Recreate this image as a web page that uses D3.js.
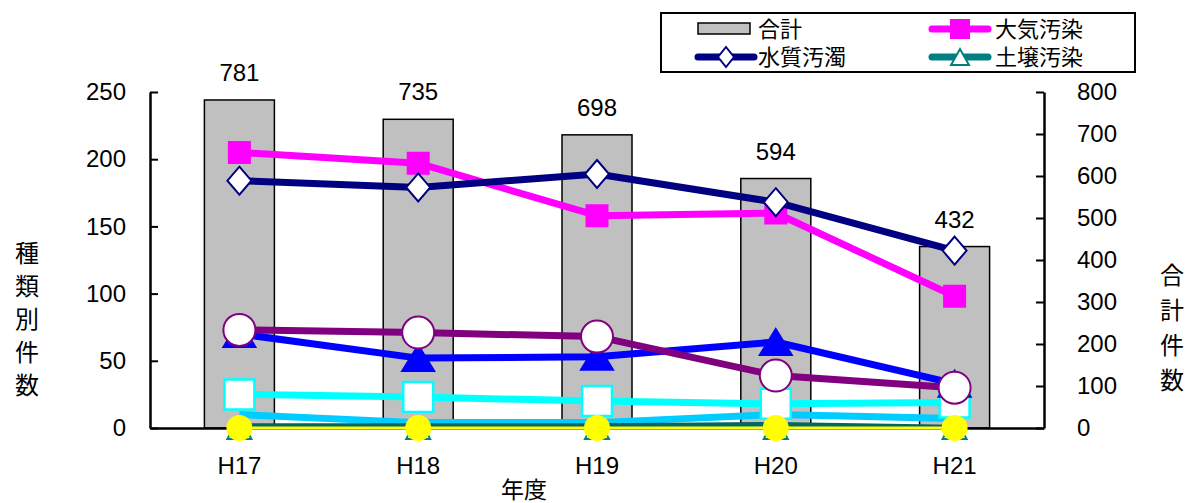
<!DOCTYPE html>
<html lang="ja">
<head>
<meta charset="UTF-8">
<title>種類別件数</title>
<style>
  body { margin: 0; background: #fff; }
  text { font-family: "Liberation Sans", Arial, sans-serif; fill: #000; }
  .jp { font-family: "Noto Sans CJK JP", sans-serif; }
  .domain { stroke: #000; stroke-width: 2.5; }
  .tick line { stroke: #000; stroke-width: 2; }
</style>
</head>
<body>
<svg id="chart" width="1190" height="503"></svg>
<script src="https://d3js.org/d3.v7.min.js"></script>
<script>
// data
const years = ["H17", "H18", "H19", "H20", "H21"];
const total = [781, 735, 698, 594, 432];
const taiki = [205, 197, 158, 160, 98];     // 大気汚染
const suishitsu = [184, 179, 189, 168, 132]; // 水質汚濁
const dojou = [0, 0, 0, 0, 0];             // 土壌汚染
const seriesBlue = [70, 52, 53, 64, 33];
const seriesPurple = [73, 71, 68, 39, 30];
const seriesCyan = [25, 23, 20, 18, 19];
const seriesSky = [10, 4, 4, 10, 7];
const seriesGreen = [2, 2, 2, 3, 1];
const seriesYellow = [0, 0, 0, 0, 0];
const leftTicks = [0, 50, 100, 150, 200, 250];
const rightTicks = [0, 100, 200, 300, 400, 500, 600, 700, 800];

const svg = d3.select("#chart");
const plotL = 150, plotR = 1044, plotT = 92, plotB = 428;

const x = d3.scaleBand().domain(years).range([plotL, plotR]).paddingInner(0).paddingOuter(0);
const yL = d3.scaleLinear().domain([0, 250]).range([plotB, plotT]);
const yR = d3.scaleLinear().domain([0, 800]).range([plotB, plotT]);
const cx = d => x(d) + x.bandwidth() / 2;
const barW = 70;

// bars (合計)
svg.append("g").selectAll("rect")
  .data(years)
  .enter().append("rect")
  .attr("x", (d) => cx(d) - barW / 2)
  .attr("y", (d, i) => yR(total[i]))
  .attr("width", barW)
  .attr("height", (d, i) => plotB - yR(total[i]))
  .attr("fill", "#c0c0c0")
  .attr("stroke", "#000")
  .attr("stroke-width", 1.5);

svg.append("g").selectAll("text")
  .data(years)
  .enter().append("text")
  .attr("x", d => cx(d))
  .attr("y", (d, i) => yR(total[i]) - 19)
  .attr("text-anchor", "middle")
  .attr("font-size", 24)
  .text((d, i) => total[i]);

// axes
svg.append("g")
  .attr("transform", `translate(${plotL},0)`)
  .call(d3.axisLeft(yL).tickValues(leftTicks).tickSize(-8).tickSizeOuter(0).tickPadding(24))
  .call(g => g.selectAll("text").attr("font-size", 24).attr("font-family", "Liberation Sans"));

svg.append("g")
  .attr("transform", `translate(${plotR},0)`)
  .call(d3.axisRight(yR).tickValues(rightTicks).tickSize(-8).tickSizeOuter(0).tickPadding(33))
  .call(g => g.selectAll("text").attr("font-size", 24).attr("font-family", "Liberation Sans"));

svg.append("g")
  .attr("transform", `translate(0,${plotB})`)
  .call(d3.axisBottom(x).tickSize(0).tickPadding(29))
  .call(g => g.selectAll("text").attr("font-size", 24).attr("font-family", "Liberation Sans"));

// line series
const line = vals => d3.line().x((d, i) => cx(years[i])).y(d => yL(d))(vals);

function drawSeries(vals, color, width, marker) {
  const g = svg.append("g");
  g.append("path")
    .attr("d", line(vals))
    .attr("fill", "none")
    .attr("stroke", color)
    .attr("stroke-width", width)
    .attr("stroke-linejoin", "round");
  if (marker) {
    g.selectAll(".m")
      .data(vals)
      .enter().append("path")
      .attr("transform", (d, i) => `translate(${cx(years[i])},${yL(d)})`)
      .attr("d", marker.d)
      .attr("fill", marker.fill)
      .attr("stroke", marker.stroke)
      .attr("stroke-width", marker.sw || 2);
  }
}

const sq = s => `M${-s / 2},${-s / 2}H${s / 2}V${s / 2}H${-s / 2}Z`;
const tri = (w, h) => `M0,${-h / 2}L${w / 2},${h / 2}L${-w / 2},${h / 2}Z`;
const dia = (w, h) => `M0,${-h / 2}L${w / 2},0L0,${h / 2}L${-w / 2},0Z`;
const circ = r => `M${-r},0A${r},${r} 0 1,0 ${r},0A${r},${r} 0 1,0 ${-r},0Z`;

drawSeries(taiki, "#ff00ff", 7, { d: sq(21), fill: "#ff00ff", stroke: "#ff00ff" });
drawSeries(suishitsu, "#000080", 7, { d: dia(24, 28), fill: "#fff", stroke: "#000080", sw: 2 });
drawSeries(dojou, "#008080", 4, { d: tri(24, 22), fill: "#fff", stroke: "#008080", sw: 2 });
drawSeries(seriesSky, "#00ccff", 7, null);
drawSeries(seriesCyan, "#00ffff", 7, { d: sq(30), fill: "#fff", stroke: "#00ffff", sw: 2.5 });
drawSeries(seriesBlue, "#0000ff", 7, { d: tri(32, 26), fill: "#0000ff", stroke: "#0000ff" });
drawSeries(seriesPurple, "#800080", 7, { d: circ(16), fill: "#fff", stroke: "#800080", sw: 2 });
drawSeries(seriesGreen, "#006666", 4, null);
drawSeries(seriesYellow, "#ffff00", 3, { d: circ(12), fill: "#ffff00", stroke: "#ffff00" });

// axis titles
svg.append("g").selectAll("text")
  .data(["種", "類", "別", "件", "数"])
  .enter().append("text")
  .attr("class", "jp")
  .attr("x", 27)
  .attr("y", (d, i) => 262 + i * 33)
  .attr("text-anchor", "middle")
  .attr("font-size", 24)
  .text(d => d);

svg.append("g").selectAll("text")
  .data(["合", "計", "件", "数"])
  .enter().append("text")
  .attr("class", "jp")
  .attr("x", 1172)
  .attr("y", (d, i) => 284 + i * 35)
  .attr("text-anchor", "middle")
  .attr("font-size", 24)
  .text(d => d);

svg.append("text")
  .attr("class", "jp")
  .attr("x", 524)
  .attr("y", 498)
  .attr("text-anchor", "middle")
  .attr("font-size", 23)
  .text("年度");

// legend
const lg = svg.append("g");
lg.append("rect")
  .attr("x", 661).attr("y", 13).attr("width", 474).attr("height", 59)
  .attr("fill", "#fff").attr("stroke", "#000").attr("stroke-width", 2);

const legendItems = [
  { name: "合計", col: 0, row: 0 },
  { name: "大気汚染", col: 1, row: 0, color: "#ff00ff", marker: sq(18), fill: "#ff00ff" },
  { name: "水質汚濁", col: 0, row: 1, color: "#000080", marker: dia(16, 20), fill: "#fff" },
  { name: "土壌汚染", col: 1, row: 1, color: "#008080", marker: tri(18, 16), fill: "#fff" }
];
legendItems.forEach(it => {
  const x0 = it.col ? 932 : 698;
  const ly = it.row ? 57 : 29;
  if (!it.color) {
    lg.append("rect").attr("x", x0).attr("y", ly - 6).attr("width", 52).attr("height", 11)
      .attr("fill", "#c0c0c0").attr("stroke", "#000").attr("stroke-width", 1.5);
  } else {
    lg.append("line").attr("x1", x0).attr("x2", x0 + 56).attr("y1", ly).attr("y2", ly)
      .attr("stroke", it.color).attr("stroke-width", 7).attr("stroke-linecap", "round");
    lg.append("path").attr("transform", `translate(${x0 + 28},${ly})`).attr("d", it.marker)
      .attr("fill", it.fill).attr("stroke", it.color).attr("stroke-width", 2);
  }
  lg.append("text").attr("class", "jp")
    .attr("x", it.col ? 995 : 758).attr("y", ly + 8)
    .attr("font-size", 22)
    .text(it.name);
});
</script>
</body>
</html>
